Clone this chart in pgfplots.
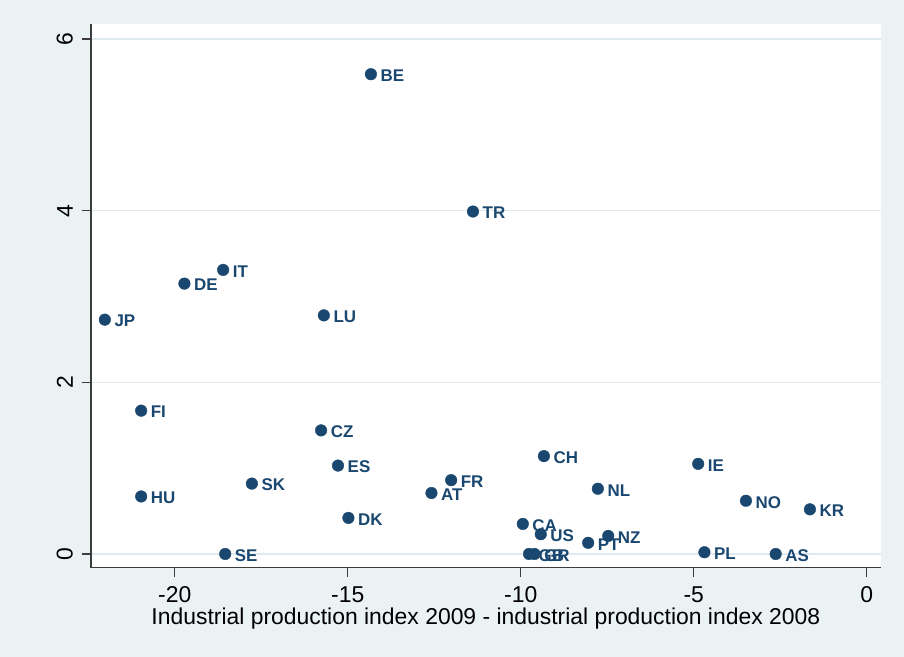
\documentclass[border=0pt]{standalone}
\usepackage{pgfplots}
\usepackage{pgfplotstable}
\usepackage{fontspec}
\setmainfont{Liberation Sans}
\pgfplotsset{compat=1.18}

\definecolor{navy}{RGB}{26,71,111}
\definecolor{bg}{RGB}{234,242,243}
\definecolor{gridc}{RGB}{224,234,238}
\definecolor{axc}{RGB}{60,60,60}

% change in industrial production vs. y value, one row per country
\pgfplotstableread{
x y lab
-14.33 5.59 BE
-11.38 3.99 TR
-18.60 3.31 IT
-19.72 3.15 DE
-22.02 2.73 JP
-15.69 2.78 LU
-20.97 1.67 FI
-15.77 1.44 CZ
-9.33 1.14 CH
-4.87 1.05 IE
-15.28 1.03 ES
-12.01 0.86 FR
-17.77 0.82 SK
-7.77 0.76 NL
-12.58 0.71 AT
-20.97 0.67 HU
-3.49 0.62 NO
-1.64 0.52 KR
-14.98 0.42 DK
-9.94 0.35 CA
-9.42 0.23 US
-7.47 0.21 NZ
-8.05 0.13 PT
-9.76 0.00 GB
-9.60 0.00 GR
-18.54 0.00 SE
-4.69 0.02 PL
-2.63 0.00 AS
}\ipdata

\begin{document}
\begin{tikzpicture}
\fill[bg] (-91bp,-89.3bp) rectangle (813bp,567.7bp);
\begin{axis}[
    scale only axis,
    width=789.7bp, height=543.7bp,
    xmin=-22.42, xmax=0.405,
    ymin=-0.16, ymax=6.175,
    axis background/.style={fill=white},
    axis x line*=bottom, axis y line*=left,
    axis line style={axc, line width=1.2bp},
    every tick/.style={axc, line width=1.2bp},
    tick align=outside,
    major tick length=9bp,
    xtick={-20,-15,-10,-5,0},
    xticklabels={-20,-15,-10,-5,0},
    ytick={0,2,4,6},
    yticklabels={0,2,4,6},
    ymajorgrids,
    major grid style={gridc, line width=1.5bp},
    tick label style={font=\fontsize{23}{23}\selectfont, inner sep=0pt},
    xticklabel style={anchor=north, yshift=-10bp},
    yticklabel style={xshift=-9bp, rotate=90, anchor=south},
    xlabel={Industrial production index 2009 - industrial production index 2008},
    xlabel style={font=\fontsize{23}{23}\selectfont, inner sep=0pt,
        at={(axis description cs:0.5,0)}, anchor=base, yshift=-56.3bp},
    clip=false,
]
\addplot[only marks, mark=*, mark size=5.8bp, navy,
    nodes near coords, point meta=explicit symbolic,
    nodes near coords style={anchor=west, inner sep=0pt, xshift=9.5bp, yshift=-1.5bp,
        font=\fontsize{17}{17}\selectfont\bfseries, text=navy}]
    table[x=x, y=y, meta=lab] {\ipdata};
\end{axis}
\pgfresetboundingbox
\path (-91bp,-89.3bp) rectangle (813bp,567.7bp);
\end{tikzpicture}
\end{document}
